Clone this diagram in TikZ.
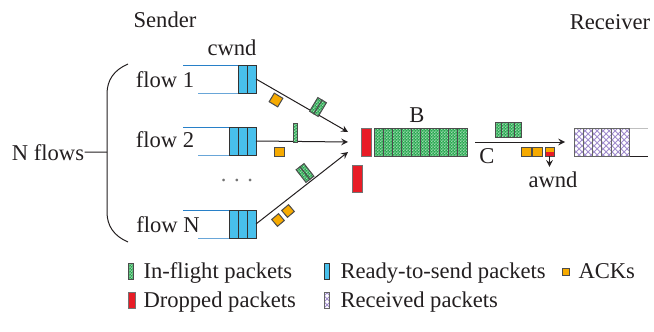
\documentclass[tikz,border=0pt]{standalone}
\usepackage{fontspec}
\setmainfont{Liberation Serif}
\usepackage{tikz}
\usetikzlibrary{patterns}
\definecolor{pktgreen}{RGB}{38,168,78}
\definecolor{pktblue}{RGB}{72,192,236}
\definecolor{pktred}{RGB}{232,28,38}
\definecolor{ackorange}{RGB}{246,170,0}
\definecolor{rcvpurple}{RGB}{160,140,205}
\definecolor{qblue}{RGB}{40,128,200}
\definecolor{inkgray}{RGB}{35,31,32}
\pgfdeclarepatternformonly{finechecker}{\pgfpointorigin}{\pgfqpoint{1.6pt}{1.6pt}}{\pgfqpoint{1.6pt}{1.6pt}}{
	\pgfpathrectangle{\pgfpointorigin}{\pgfqpoint{0.8pt}{0.8pt}}
	\pgfpathrectangle{\pgfqpoint{0.8pt}{0.8pt}}{\pgfqpoint{0.8pt}{0.8pt}}
	\pgfusepath{fill}}

\begin{document}
\begin{tikzpicture}[x=0.5pt,y=-0.5pt,line width=0.5pt,inkgray,
	inflight/.style={draw=black!70,preaction={fill=pktgreen},pattern=finechecker,pattern color=pktgreen!45!white},
	ready/.style={draw=black!80,fill=pktblue},
	dropped/.style={draw=black!55,fill=pktred},
	ack/.style={draw=black!70,fill=ackorange},
	received/.style={draw=black!60,preaction={fill=white},pattern=crosshatch,pattern color=rcvpurple},
	lbl/.style={text=inkgray,font=\fontsize{11.3}{13}\selectfont,inner sep=0pt}]
	\useasboundingbox (0,0) rectangle (654,332);
	
	\node[lbl,anchor=base] (snd) at (165,27) {Sender};
	\node[lbl,anchor=base] (rcv) at (610,30) {Receiver};
	\node[lbl,anchor=base] (cw) at (232,55) {cwnd};
	
	% the N flows and the brace round them
	\node[lbl,anchor=base] (nf) at (48,160) {N flows};
	\coordinate (br) at (107,152);
	\draw (nf.east) -- (br);
	\draw (128,64) .. controls (114,70) and (107,80) .. (107,94) -- (107,212) .. controls (107,226) and (114,236) .. (128,242);
	
	\node[lbl,anchor=base] (f1) at (165,87) {flow 1};
	\node[lbl,anchor=base] (f2) at (165,147) {flow 2};
	\node[lbl,anchor=base] (fN) at (168,232) {flow N};
	\node[lbl,anchor=base,text=black!55] (dots) at (237,181) {.\,\,.\,\,.};
	
	% sender queues
	\foreach \t/\k/\nm in {65/2/1,127/3/2,210/3/N} {
		\draw[qblue] (183,\t) -- (256,\t);
		\draw[qblue!70] (198,\t+28) -- (256,\t+28);
		\foreach \i in {1,...,\k} \draw[ready] (256-9*\i,\t) rectangle ++(9,28);
		\coordinate (q\nm) at (256,\t+14);
	}
	
	\coordinate (m1) at (348,132);
	\coordinate (m2) at (348,142);
	\coordinate (mN) at (348,152);
	\draw[-stealth] (q1) -- (m1);
	\draw[-stealth] (q2) -- (m2);
	\draw[-stealth] (qN) -- (mN);
	
	% packets and acks on the links
	\begin{scope}[shift={(318,107)},rotate=-31]
		\draw[inflight] (-5,-8) rectangle (0,8);
		\draw[inflight] (0,-8) rectangle (5,8);
	\end{scope}
	\begin{scope}[shift={(276,100)},rotate=-31]
		\draw[ack] (-5,-5) rectangle (5,5);
	\end{scope}
	\draw[inflight] (293,123) rectangle (297,142);
	\draw[ack] (274,147) rectangle (284,156);
	\begin{scope}[shift={(305,173)},rotate=38]
		\draw[inflight] (-5,-8) rectangle (0,8);
		\draw[inflight] (0,-8) rectangle (5,8);
	\end{scope}
	\begin{scope}[shift={(278,220)},rotate=40]
		\draw[ack] (-4.5,-4.5) rectangle (4.5,4.5);
	\end{scope}
	\begin{scope}[shift={(288,211)},rotate=40]
		\draw[ack] (-4.5,-4.5) rectangle (4.5,4.5);
	\end{scope}
	
	% bottleneck buffer
	\draw[dropped] (361,128) rectangle (371,156);
	\draw[dropped] (352,165) rectangle (362,192);
	\foreach \i in {0,...,9} \draw[inflight] (374+9.3*\i,128) rectangle ++(9.3,28);
	\node[lbl,anchor=base] (bb) at (417,122) {B};
	
	\coordinate (c0) at (475,142);
	\coordinate (c1) at (565,142);
	\draw[-stealth] (c0) -- (c1);
	\node[lbl,anchor=base] (cc) at (487,163) {C};
	\foreach \i in {0,...,3} \draw[inflight] (495+6.5*\i,122) rectangle ++(6.5,15);
	\draw[ack] (521,147) rectangle (531,156);
	\draw[ack] (532,147) rectangle (542,156);
	\fill[ackorange] (545,147) rectangle (554,151.5);
	\fill[pktred] (545,151.5) rectangle (554,156);
	\draw[black!70] (545,147) rectangle (554,156);
	\coordinate (aw0) at (549.5,156);
	\node[lbl,anchor=base] (aw) at (553,187) {awnd};
	\draw[-stealth,shorten >=2pt] (aw0) -- (aw0|-aw.north);
	
	% receiver buffer
	\draw[black!25] (574,128) -- (648,128);
	\draw (574,156) -- (648,156);
	\foreach \i in {0,...,5} \draw[received] (574+9.33*\i,128) rectangle ++(9.33,28);
	
	% legend
	\draw[inflight] (128,263) rectangle (133,279);
	\node[lbl,anchor=base west] (lg1) at (143,278) {In-flight packets};
	\draw[ready] (324,263) rectangle (329,279);
	\node[lbl,anchor=base west] (lg2) at (340,278) {Ready-to-send packets};
	\draw[ack] (562,268) rectangle (569,275);
	\node[lbl,anchor=base west] (lg3) at (578,278) {ACKs};
	\draw[dropped] (128,292) rectangle (135,308);
	\node[lbl,anchor=base west] (lg4) at (143,307) {Dropped packets};
	\draw[received] (324,292) rectangle (329,308);
	\node[lbl,anchor=base west] (lg5) at (340,307) {Received packets};
\end{tikzpicture}
\end{document}
